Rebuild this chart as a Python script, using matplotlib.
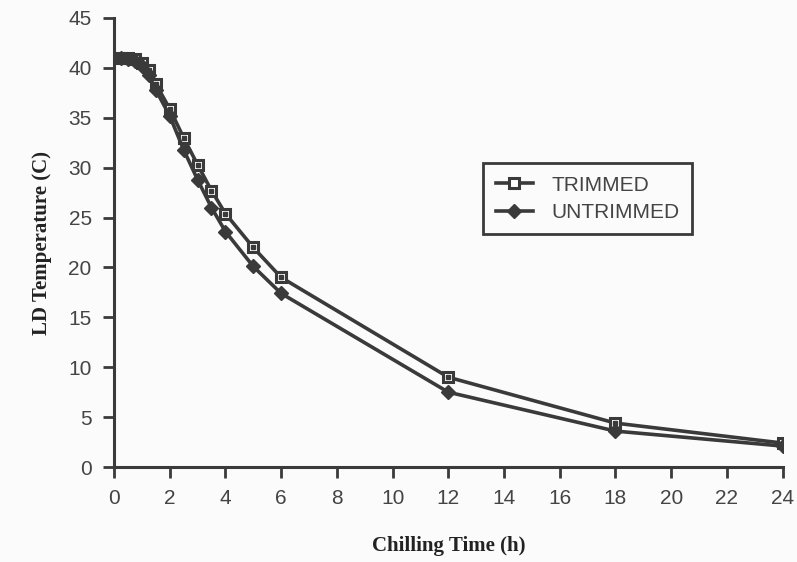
import matplotlib
matplotlib.use("Agg")
import matplotlib.pyplot as plt

# Data
hours = [0.25, 0.5, 0.75, 1.0, 1.25, 1.5, 2, 2.5, 3, 3.5, 4, 5, 6, 12, 18, 24]
trimmed = [41.0, 41.0, 40.9, 40.5, 39.8, 38.4, 35.9, 33.0, 30.3, 27.7, 25.4, 22.0, 19.0, 9.0, 4.4, 2.4]
untrimmed = [41.0, 40.9, 40.7, 40.2, 39.3, 37.8, 35.2, 31.8, 28.8, 26.0, 23.6, 20.1, 17.4, 7.5, 3.6, 2.1]
series_names = ["TRIMMED", "UNTRIMMED"]
x_ticks = list(range(0, 25, 2))
y_ticks = list(range(0, 46, 5))

ink = "#3a3a3a"
fig = plt.figure(figsize=(7.97, 5.62), dpi=100, facecolor="#fbfbfb")
ax = fig.add_axes([0.143, 0.169, 0.839, 0.799])
ax.set_facecolor("#fbfbfb")

ax.plot(hours, trimmed, color=ink, lw=2.6, marker="s", ms=7.5,
        mfc="white", mec=ink, mew=2.2, label=series_names[0], zorder=3)
ax.plot(hours, trimmed, ls="none", marker="s", ms=2.2, mfc=ink, mec=ink, zorder=4)
ax.plot(hours, untrimmed, color=ink, lw=2.6, marker="D", ms=7,
        mfc=ink, mec=ink, label=series_names[1], zorder=3)

ax.set_xlim(0, 24)
ax.set_ylim(0, 45)
ax.set_xticks(x_ticks)
ax.set_yticks(y_ticks)
for s in ["top", "right"]:
    ax.spines[s].set_visible(False)
for s in ["left", "bottom"]:
    ax.spines[s].set_color(ink)
    ax.spines[s].set_linewidth(2.2)
ax.tick_params(direction="out", length=8, width=2, color=ink, labelcolor="#444",
               labelsize=15, pad=8)
for lab in ax.get_xticklabels() + ax.get_yticklabels():
    lab.set_family("Liberation Sans")

ax.set_xlabel("Chilling Time (h)", family="Liberation Serif", weight="bold",
              fontsize=15, color="#222", labelpad=20)
ax.set_ylabel("LD Temperature (C)", family="Liberation Serif", weight="bold",
              fontsize=15, color="#222", labelpad=12)

leg = ax.legend(loc="upper left", bbox_to_anchor=(0.552, 0.677), borderaxespad=0,
                fancybox=False, framealpha=1, edgecolor=ink, facecolor="#fbfbfb",
                prop={"family": "Liberation Sans", "size": 15}, handlelength=1.8,
                borderpad=0.6, labelspacing=0.4, handletextpad=0.9)
leg.get_frame().set_linewidth(2)
for t in leg.get_texts():
    t.set_color("#444")

fig.savefig("out.png", dpi=100, facecolor=fig.get_facecolor())
